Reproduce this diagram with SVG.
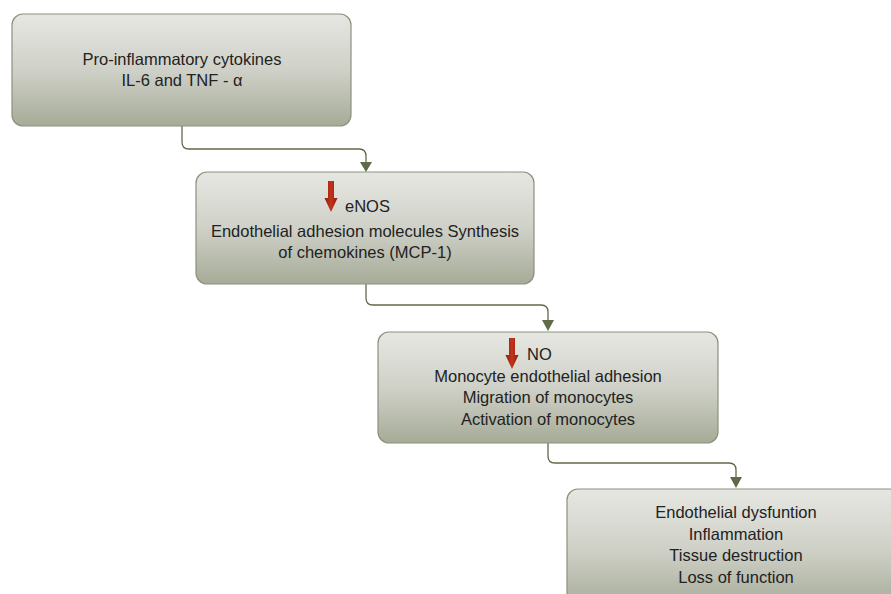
<svg xmlns="http://www.w3.org/2000/svg" width="891" height="594" viewBox="0 0 891 594">
<style>
.box{fill:url(#g);stroke:#8c917e;stroke-width:1.2}
.t{font-family:"Liberation Sans",Arial,sans-serif;font-size:16.5px;fill:#222;text-anchor:middle}
.tl{font-family:"Liberation Sans",Arial,sans-serif;font-size:16.5px;fill:#222}
.c{fill:none;stroke:#5f6a4a;stroke-width:1.3}
.dn{fill:url(#r)}
</style>
<defs>
<linearGradient id="g" x1="0" y1="0" x2="0" y2="1">
<stop offset="0" stop-color="#e6e7e2"/>
<stop offset="0.5" stop-color="#cfd1c8"/>
<stop offset="1" stop-color="#a6ab97"/>
</linearGradient>
<linearGradient id="r" x1="0" y1="0" x2="1" y2="0">
<stop offset="0" stop-color="#8e1c0c"/>
<stop offset="0.5" stop-color="#c2341a"/>
<stop offset="1" stop-color="#8e1c0c"/>
</linearGradient>
</defs>
<rect width="891" height="594" fill="#fff"/>
<g id="connectors">
<path class="c" d="M182,126 V142 Q182,149 189,149 H359 Q366,149 366,156 V163"/>
<path d="M360,162 L372,162 L366,172 z" fill="#5f6a4a"/>
<path class="c" d="M366,284 V298 Q366,305 373,305 H541 Q548,305 548,312 V321"/>
<path d="M542,320 L554,320 L548,331 z" fill="#5f6a4a"/>
<path class="c" d="M548,443 V456 Q548,463 555,463 H729 Q736,463 736,470 V478"/>
<path d="M730,477 L742,477 L736,488 z" fill="#5f6a4a"/>
</g>
<g id="node1">
<rect class="box" x="12" y="14" width="339" height="112" rx="11"/>
<text class="t" x="182" y="65">Pro-inflammatory cytokines</text>
<text class="t" x="182" y="86">IL-6 and TNF - α</text>
</g>
<g id="node2">
<rect class="box" x="196" y="172" width="338" height="112" rx="11"/>
<path class="dn" d="M328,181 H334 V198 H337.5 L331,212 L324.5,198 H328 z"/>
<text class="tl" x="345" y="212">eNOS</text>
<text class="t" x="365" y="237">Endothelial adhesion molecules Synthesis</text>
<text class="t" x="365" y="258">of chemokines (MCP-1)</text>
</g>
<g id="node3">
<rect class="box" x="378" y="332" width="340" height="111" rx="11"/>
<path class="dn" d="M509,338 H515 V355 H518.5 L512,369 L505.5,355 H509 z"/>
<text class="tl" x="527" y="360">NO</text>
<text class="t" x="548" y="382">Monocyte endothelial adhesion</text>
<text class="t" x="548" y="403">Migration of monocytes</text>
<text class="t" x="548" y="425">Activation of monocytes</text>
</g>
<g id="node4">
<rect class="box" x="567" y="489" width="340" height="120" rx="11"/>
<text class="t" x="736" y="518">Endothelial dysfuntion</text>
<text class="t" x="736" y="540">Inflammation</text>
<text class="t" x="736" y="561">Tissue destruction</text>
<text class="t" x="736" y="583">Loss of function</text>
</g>
</svg>
